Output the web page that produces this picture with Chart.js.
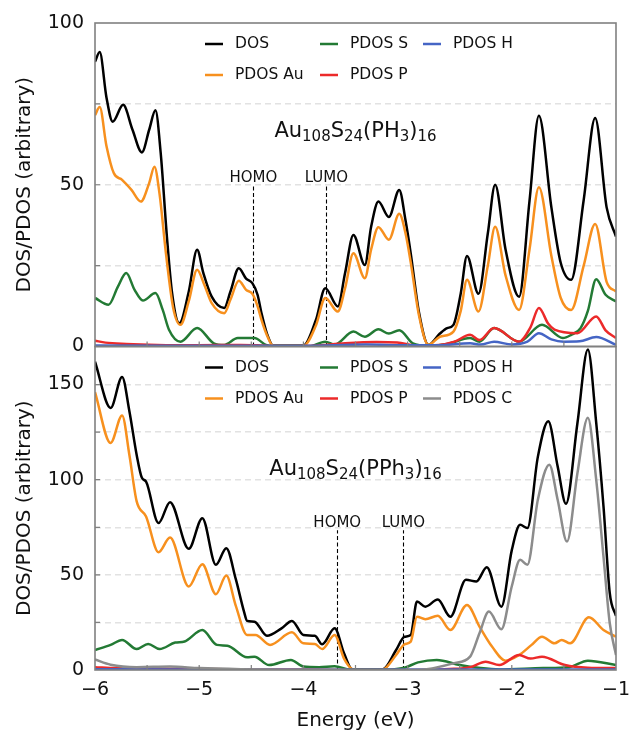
<!DOCTYPE html>
<html>
<head>
<meta charset="utf-8">
<script src="https://cdn.jsdelivr.net/npm/chart.js@4.4.1/dist/chart.umd.min.js"></script>
<style>
html, body { margin: 0; padding: 0; background: #fff; }
canvas { display: block; }
</style>
</head>
<body>
<canvas id="chart-dos" width="639" height="731"></canvas>
<script>
const seriesNames = ["DOS", "PDOS Au", "PDOS S", "PDOS P", "PDOS H", "PDOS C"];
const seriesColors = ["#000000", "#f7901e", "#237a34", "#ec2a2a", "#4565c5", "#8c8c8c"];
const levelNames = ["HOMO", "LUMO"];

// top panel: Au108S24(PH3)16, points are [energy (eV), DOS]
const topDOS = [[-6.00, 88], [-5.955, 91], [-5.89, 77], [-5.83, 69.5], [-5.73, 74.7], [-5.64, 67], [-5.55, 60], [-5.48, 67], [-5.42, 73], [-5.37, 60], [-5.31, 34], [-5.26, 16.5], [-5.19, 7.2], [-5.10, 17], [-5.02, 29.9], [-4.96, 22.7], [-4.88, 15.4], [-4.76, 11.9], [-4.70, 17], [-4.62, 24.2], [-4.55, 21], [-4.49, 19.6], [-4.44, 16], [-4.40, 10], [-4.35, 4], [-4.29, 0.3], [-4.00, 0.3], [-3.88, 8.2], [-3.79, 18], [-3.67, 12.4], [-3.60, 22.7], [-3.52, 34.5], [-3.41, 25.2], [-3.35, 37], [-3.28, 44.8], [-3.18, 40], [-3.08, 48.4], [-3.02, 39], [-2.97, 28.8], [-2.89, 10.4], [-2.80, 0.5], [-2.69, 4], [-2.62, 5.7], [-2.56, 6.7], [-2.49, 16.4], [-2.43, 28], [-2.32, 16.3], [-2.23, 35], [-2.16, 50], [-2.06, 30], [-1.93, 15.4], [-1.83, 45], [-1.74, 71.3], [-1.62, 43], [-1.53, 25.8], [-1.43, 20.6], [-1.31, 45.3], [-1.20, 70.6], [-1.09, 43], [-1.00, 34]];
const topAu = [[-6.00, 71.5], [-5.955, 74], [-5.89, 62], [-5.82, 53.6], [-5.74, 51.5], [-5.65, 48.4], [-5.56, 44.8], [-5.48, 50.5], [-5.43, 55.6], [-5.38, 47], [-5.32, 29], [-5.25, 12], [-5.18, 6.7], [-5.10, 14], [-5.02, 23.7], [-4.95, 19], [-4.88, 13.4], [-4.76, 10.3], [-4.70, 14.5], [-4.62, 20.3], [-4.55, 17.5], [-4.49, 16.3], [-4.44, 12.5], [-4.40, 8], [-4.35, 3.5], [-4.29, 0.2], [-4.00, 0.2], [-3.88, 6.5], [-3.79, 15], [-3.67, 10.8], [-3.60, 18], [-3.52, 28.8], [-3.41, 21.1], [-3.35, 30], [-3.28, 36.9], [-3.18, 33], [-3.08, 41], [-3.02, 35], [-2.97, 26], [-2.89, 9.5], [-2.80, 0.5], [-2.69, 3], [-2.56, 4.6], [-2.49, 11], [-2.43, 20.6], [-2.32, 10.8], [-2.23, 25], [-2.16, 37], [-2.06, 22], [-1.93, 11.3], [-1.83, 30], [-1.74, 49.2], [-1.62, 28], [-1.53, 15], [-1.43, 11.3], [-1.31, 25], [-1.20, 37.9], [-1.09, 20], [-1.00, 17]];
const topS = [[-6.00, 15], [-5.87, 12.9], [-5.78, 18.5], [-5.70, 22.7], [-5.62, 17.5], [-5.54, 14.2], [-5.42, 16.5], [-5.35, 11.3], [-5.29, 5.2], [-5.18, 1.5], [-5.02, 5.7], [-4.86, 1], [-4.76, 0.5], [-4.63, 2.6], [-4.47, 2.6], [-4.36, 0.5], [-4.25, 0], [-3.95, 0], [-3.79, 1.5], [-3.70, 0.6], [-3.52, 4.6], [-3.41, 3], [-3.28, 5.3], [-3.18, 4], [-3.08, 5], [-2.95, 1], [-2.80, 0.2], [-2.62, 0.8], [-2.40, 2.6], [-2.31, 1.5], [-2.17, 5.7], [-1.93, 1.5], [-1.71, 6.7], [-1.51, 2.6], [-1.43, 3.6], [-1.34, 5.7], [-1.27, 11], [-1.19, 20.8], [-1.10, 16], [-1.00, 13.9]];
const topP = [[-6.00, 1.8], [-5.90, 1.2], [-5.70, 0.8], [-5.40, 0.5], [-5.00, 0.4], [-4.60, 0.5], [-4.40, 0.3], [-4.20, 0], [-3.90, 0.2], [-3.60, 1.0], [-3.30, 1.4], [-3.10, 1.2], [-2.90, 0.3], [-2.70, 0.5], [-2.55, 1.5], [-2.40, 3.6], [-2.31, 2], [-2.17, 5.7], [-1.93, 1.5], [-1.82, 6], [-1.74, 11.9], [-1.65, 7], [-1.59, 5.2], [-1.37, 4.1], [-1.19, 9.3], [-1.10, 5], [-1.00, 2.6]];
const topH = [[-6.00, 0.3], [-4.00, 0.2], [-3.40, 0.6], [-3.00, 0.4], [-2.70, 0.4], [-2.40, 1], [-2.30, 0.6], [-2.17, 1.5], [-2.00, 0.6], [-1.85, 1.5], [-1.74, 4.1], [-1.62, 2.2], [-1.50, 1.5], [-1.35, 1.6], [-1.19, 2.9], [-1.00, 0.5]];
const topLevels = [-4.48, -3.78];

// bottom panel: Au108S24(PPh3)16
const botDOS = [[-6.00, 162], [-5.85, 137.7], [-5.74, 154], [-5.67, 136], [-5.60, 113], [-5.55, 101], [-5.51, 99], [-5.39, 77.2], [-5.28, 88.2], [-5.10, 63.7], [-4.97, 79.8], [-4.84, 55.3], [-4.74, 64], [-4.65, 48], [-4.57, 30.7], [-4.54, 25.8], [-4.47, 25.4], [-4.35, 18], [-4.21, 21.9], [-4.11, 25.8], [-4.00, 18.4], [-3.89, 18], [-3.82, 13.5], [-3.70, 21.9], [-3.61, 8.8], [-3.53, 0.3], [-3.24, 0.3], [-3.11, 10.5], [-3.03, 17.5], [-2.97, 18.4], [-2.91, 36], [-2.83, 33.3], [-2.71, 37], [-2.59, 28], [-2.44, 47.4], [-2.34, 46.5], [-2.24, 54], [-2.10, 33.3], [-2.00, 63], [-1.92, 76.3], [-1.85, 74.6], [-1.75, 112], [-1.65, 130.7], [-1.56, 107], [-1.48, 87.4], [-1.37, 129.8], [-1.27, 168.4], [-1.19, 130], [-1.12, 86], [-1.06, 40.5], [-1.00, 28.4]];
const botAu = [[-6.00, 146], [-5.85, 119.3], [-5.74, 133.8], [-5.67, 113], [-5.60, 88.6], [-5.51, 80.7], [-5.39, 61.9], [-5.28, 69.6], [-5.10, 43.9], [-4.97, 55.6], [-4.84, 39.8], [-4.74, 49.6], [-4.65, 34], [-4.54, 18.4], [-4.46, 18.4], [-4.32, 13.2], [-4.11, 19.8], [-4.00, 14], [-3.89, 13.7], [-3.82, 11], [-3.70, 18.4], [-3.61, 6], [-3.52, 0.3], [-3.24, 0.3], [-3.11, 7.9], [-3.03, 13.5], [-2.97, 14.9], [-2.91, 28], [-2.83, 26.7], [-2.71, 28.5], [-2.59, 21], [-2.43, 34.2], [-2.31, 22.8], [-2.19, 12.3], [-2.06, 4.9], [-1.93, 7.9], [-1.81, 13.2], [-1.71, 17.5], [-1.59, 14], [-1.52, 15.8], [-1.44, 14], [-1.26, 27.7], [-1.12, 21], [-1.00, 17.5]];
const botS = [[-6.00, 10.5], [-5.85, 13.2], [-5.74, 15.8], [-5.60, 11], [-5.49, 13.7], [-5.38, 11], [-5.23, 14.4], [-5.14, 15], [-4.97, 21], [-4.83, 13.2], [-4.73, 12.8], [-4.54, 6.7], [-4.47, 7], [-4.33, 2.6], [-4.12, 5.3], [-4.00, 1.8], [-3.85, 1.5], [-3.70, 2], [-3.55, 0.2], [-3.25, 0.2], [-3.03, 1.2], [-2.90, 4], [-2.72, 5.3], [-2.50, 2.6], [-2.30, 1], [-2.12, 0.3], [-1.70, 1], [-1.45, 1.5], [-1.27, 4.9], [-1.00, 2.6]];
const botP = [[-6.00, 1.5], [-5.80, 1], [-5.40, 0.7], [-5.00, 0.5], [-4.50, 0.3], [-4.00, 0.2], [-3.60, 0], [-3.00, 0], [-2.60, 0.5], [-2.40, 1.5], [-2.25, 4.4], [-2.12, 2.6], [-1.93, 7.9], [-1.82, 6], [-1.71, 7], [-1.49, 2.6], [-1.27, 1.2], [-1.00, 1]];
const botH = [[-6.00, 0.4], [-3.50, 0.1], [-2.00, 0.3], [-1.00, 0.2]];
const botC = [[-6.00, 5.5], [-5.85, 2.8], [-5.60, 1.5], [-5.28, 1.8], [-5.00, 1.0], [-4.60, 0.4], [-4.20, 0.1], [-3.00, 0], [-2.80, 0.5], [-2.56, 3.5], [-2.40, 7], [-2.31, 19.3], [-2.22, 30.7], [-2.10, 21.4], [-2.00, 44], [-1.92, 57.9], [-1.85, 55.3], [-1.75, 89.5], [-1.64, 107.9], [-1.56, 89.5], [-1.47, 67.5], [-1.37, 103.5], [-1.27, 132.5], [-1.19, 100], [-1.12, 59.6], [-1.06, 24.7], [-1.00, 7.9]];
const botLevels = [-3.675, -3.04];

const topTitle = [["Au", 0], ["108", 1], ["S", 0], ["24", 1], ["(PH", 0], ["3", 1], [")", 0], ["16", 1]];
const botTitle = [["Au", 0], ["108", 1], ["S", 0], ["24", 1], ["(PPh", 0], ["3", 1], [")", 0], ["16", 1]];

const fontFamily = "'DejaVu Sans', sans-serif";
const frameColor = "#808080";
const gridColor = "#e2e2e2";

Chart.defaults.font.family = fontFamily;
Chart.defaults.color = "#111111";

function makeSet(idx, pts, axis) {
	return {
		label: seriesNames[idx],
		data: pts.map((p) => ({ x: p[0], y: p[1] })),
		borderColor: seriesColors[idx],
		backgroundColor: seriesColors[idx],
		borderWidth: 2.5,
		pointRadius: 0,
		fill: false,
		cubicInterpolationMode: "monotone",
		yAxisID: axis,
		order: 10 - idx,
	};
}

const datasets = [
	makeSet(0, topDOS, "yTop"),
	makeSet(1, topAu, "yTop"),
	makeSet(2, topS, "yTop"),
	makeSet(3, topP, "yTop"),
	makeSet(4, topH, "yTop"),
	makeSet(0, botDOS, "yBot"),
	makeSet(1, botAu, "yBot"),
	makeSet(2, botS, "yBot"),
	makeSet(3, botP, "yBot"),
	makeSet(4, botH, "yBot"),
	makeSet(5, botC, "yBot"),
];

const panels = [
	{ axis: "yTop", title: topTitle, titleFrac: 0.648, levels: topLevels, levelTop: 49.8 },
	{ axis: "yBot", title: botTitle, titleFrac: 0.604, levels: botLevels, levelTop: 73.5 },
];

function yAxis(max) {
	return {
		type: "linear",
		position: "left",
		stack: "panels",
		stackWeight: 1,
		min: 0,
		max: max,
		afterFit: (s) => {
			s.width = 95;
		},
		border: { display: false, dash: [6, 4] },
		grid: {
			drawTicks: false,
			lineWidth: 1.4,
			color: (c) => {
				const v = c.tick.value;
				return v > 0 && v < max && v % 25 === 0 ? gridColor : "rgba(0,0,0,0)";
			},
		},
		ticks: {
			stepSize: 25,
			autoSkip: false,
			padding: 11,
			font: { size: 19 },
			color: "#111111",
			callback: (v) => (v % 50 === 0 ? v : ""),
		},
		title: {
			display: true,
			text: "DOS/PDOS (arbitrary)",
			font: { size: 20 },
			color: "#111111",
			padding: { top: 13, bottom: 0 },
		},
	};
}

function drawTitle(ctx, parts, cx, baseline) {
	const big = "21px " + fontFamily;
	const small = "15px " + fontFamily;
	let width = 0;
	parts.forEach((p) => {
		ctx.font = p[1] ? small : big;
		width += ctx.measureText(p[0]).width;
	});
	let x = cx - width / 2;
	ctx.textAlign = "left";
	ctx.textBaseline = "alphabetic";
	parts.forEach((p) => {
		ctx.font = p[1] ? small : big;
		ctx.fillText(p[0], x, p[1] ? baseline + 4 : baseline);
		x += ctx.measureText(p[0]).width;
	});
}

const panelDecor = {
	id: "panelDecor",
	beforeDatasetsDraw(chart) {
		const ctx = chart.ctx;
		const xs = chart.scales.x;
		ctx.save();
		ctx.strokeStyle = "#000000";
		ctx.lineWidth = 1.1;
		ctx.setLineDash([4, 2.5]);
		panels.forEach((pn) => {
			const ys = chart.scales[pn.axis];
			pn.levels.forEach((e) => {
				const px = Math.round(xs.getPixelForValue(e)) + 0.5;
				ctx.beginPath();
				ctx.moveTo(px, ys.getPixelForValue(0));
				ctx.lineTo(px, ys.getPixelForValue(pn.levelTop));
				ctx.stroke();
			});
		});
		ctx.restore();
	},
	afterDatasetsDraw(chart) {
		const ctx = chart.ctx;
		const area = chart.chartArea;
		const xs = chart.scales.x;
		ctx.save();
		ctx.strokeStyle = frameColor;
		panels.forEach((pn) => {
			const ys = chart.scales[pn.axis];
			ctx.lineWidth = 1.2;
			ctx.beginPath();
			for (let e = -5.5; e < -1; e += 0.5) {
				const px = xs.getPixelForValue(e);
				ctx.moveTo(px, ys.bottom);
				ctx.lineTo(px, ys.bottom - 5);
			}
			ys.ticks.forEach((t) => {
				if (t.value > ys.min && t.value < ys.max && t.value % 25 === 0) {
					const py = ys.getPixelForValue(t.value);
					ctx.moveTo(area.left, py);
					ctx.lineTo(area.left + 5, py);
				}
			});
			ctx.stroke();
			ctx.lineWidth = 1.6;
			ctx.strokeRect(area.left, ys.top, area.right - area.left, ys.bottom - ys.top);
		});
		ctx.restore();
	},
	afterDraw(chart) {
		const ctx = chart.ctx;
		const area = chart.chartArea;
		const xs = chart.scales.x;
		const cols = [110, 225, 328];
		const rows = [21, 52];
		ctx.save();
		ctx.fillStyle = "#111111";
		panels.forEach((pn) => {
			const ys = chart.scales[pn.axis];
			// legend, filled column by column
			const items = chart.data.datasets.filter((d) => d.yAxisID === pn.axis);
			items.forEach((d, i) => {
				const lx = area.left + cols[Math.floor(i / 2)];
				const ly = ys.top + rows[i % 2];
				ctx.strokeStyle = d.borderColor;
				ctx.lineWidth = 2.5;
				ctx.beginPath();
				ctx.moveTo(lx, ly);
				ctx.lineTo(lx + 18, ly);
				ctx.stroke();
				ctx.font = "15.5px " + fontFamily;
				ctx.textAlign = "left";
				ctx.textBaseline = "middle";
				ctx.fillText(d.label, lx + 30, ly);
			});
			// molecule name
			const base = ys.bottom - pn.titleFrac * (ys.bottom - ys.top);
			drawTitle(ctx, pn.title, (area.left + area.right) / 2, base);
			// HOMO / LUMO labels
			ctx.font = "15px " + fontFamily;
			ctx.textAlign = "center";
			ctx.textBaseline = "alphabetic";
			pn.levels.forEach((e, i) => {
				ctx.fillText(levelNames[i], xs.getPixelForValue(e), ys.getPixelForValue(pn.levelTop) - 3);
			});
		});
		ctx.restore();
	},
};

const ctxDos = document.getElementById("chart-dos").getContext("2d");

var chartDos = new Chart(ctxDos, {
	type: "line",
	data: { datasets: datasets },
	options: {
		responsive: false,
		maintainAspectRatio: false,
		animation: false,
		layout: { padding: { left: 0, right: 13, top: 23, bottom: 0 } },
		plugins: {
			legend: { display: false },
			tooltip: { enabled: false },
		},
		scales: {
			x: {
				type: "linear",
				min: -6,
				max: -1,
				afterFit: (s) => {
					s.height = 61;
				},
				border: { display: false },
				grid: { display: false, drawTicks: false },
				ticks: {
					stepSize: 1,
					padding: 9,
					font: { size: 19 },
					color: "#111111",
					callback: (v) => (v < 0 ? "\u2212" + Math.abs(v) : "" + v),
				},
				title: {
					display: true,
					text: "Energy (eV)",
					font: { size: 20, lineHeight: 1 },
					color: "#111111",
					padding: { top: 0, bottom: 0 },
				},
			},
			// stacked axes: the one listed last is placed on top
			yBot: yAxis(170),
			yTop: yAxis(100),
		},
	},
	plugins: [panelDecor],
});
</script>
</body>
</html>
